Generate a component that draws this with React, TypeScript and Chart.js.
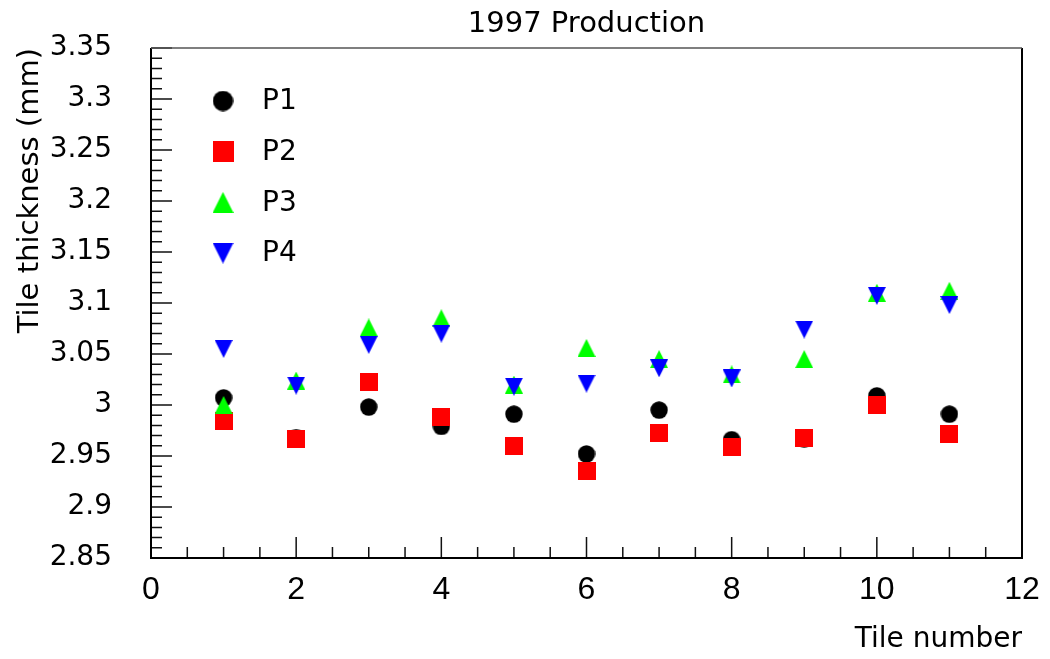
import React, { useEffect, useRef } from 'react';
import { Chart, registerables } from 'chart.js';

Chart.register(...registerables);

// Measured tile thickness (mm) for each production batch, per tile number
const tileNumbers = [1, 2, 3, 4, 5, 6, 7, 8, 9, 10, 11];
const p1Thickness = [3.007, 2.968, 2.998, 2.979, 2.991, 2.952, 2.995, 2.966, 2.967, 3.009, 2.991];
const p2Thickness = [2.984, 2.967, 3.023, 2.988, 2.960, 2.935, 2.973, 2.959, 2.968, 3.000, 2.972];
const p3Thickness = [3.000, 3.024, 3.076, 3.085, 3.020, 3.056, 3.045, 3.030, 3.045, 3.110, 3.112];
const p4Thickness = [3.055, 3.019, 3.059, 3.070, 3.018, 3.021, 3.036, 3.026, 3.074, 3.107, 3.098];

const seriesNames = ['P1', 'P2', 'P3', 'P4'];
const seriesColors = ['#000000', '#ff0000', '#00ff00', '#0000ff'];
type Shape = 'circle' | 'square' | 'up' | 'down';
const seriesShapes: Shape[] = ['circle', 'square', 'up', 'down'];

const chartTitle = '1997 Production';
const xAxisTitle = 'Tile number';
const yAxisTitle = 'Tile thickness (mm)';

const xRange = [0, 12];
const yRange = [2.85, 3.35];

const TEXT_FONT = "'DejaVu Sans', sans-serif";
const NUM_FONT = "'Liberation Sans', Arial, sans-serif";

function makeMarker(shape: Shape, color: string, size: number): HTMLCanvasElement {
  const c = document.createElement('canvas');
  c.width = size;
  c.height = size;
  const g = c.getContext('2d')!;
  const h = size / 2;
  g.fillStyle = color;
  g.beginPath();
  if (shape === 'circle') {
    g.arc(h, h, h - 0.3, 0, Math.PI * 2);
  } else if (shape === 'square') {
    g.rect(0, 0, size, size);
  } else if (shape === 'up') {
    g.moveTo(h, 0);
    g.lineTo(size, size);
    g.lineTo(0, size);
    g.closePath();
  } else {
    g.moveTo(0, 0);
    g.lineTo(size, 0);
    g.lineTo(h, size);
    g.closePath();
  }
  g.fill();
  return c;
}

// Inward tick marks on both axes plus the surrounding frame
const framePlugin = {
  id: 'frameAndTicks',
  afterDraw(chart: any) {
    const { ctx, chartArea, scales } = chart;
    const { left, right, top, bottom } = chartArea;
    const xs = scales.x;
    const ys = scales.y;
    ctx.save();
    ctx.strokeStyle = '#111';
    ctx.lineWidth = 1.5;
    ctx.beginPath();
    for (let i = 0; i <= 50; i++) {
      const v = yRange[0] + i * 0.01;
      const py = ys.getPixelForValue(v);
      const len = i % 5 === 0 ? 21 : 11;
      ctx.moveTo(left, py);
      ctx.lineTo(left + len, py);
    }
    for (let i = 0; i <= 24; i++) {
      const v = xRange[0] + i * 0.5;
      const px = xs.getPixelForValue(v);
      const len = i % 4 === 0 ? 21 : 11;
      ctx.moveTo(px, bottom);
      ctx.lineTo(px, bottom - len);
    }
    ctx.stroke();
    ctx.lineWidth = 2;
    ctx.strokeStyle = '#000';
    ctx.beginPath();
    ctx.moveTo(left, top);
    ctx.lineTo(left, bottom);
    ctx.lineTo(right, bottom);
    ctx.lineTo(right, top);
    ctx.stroke();
    ctx.strokeStyle = '#555';
    ctx.lineWidth = 1.5;
    ctx.beginPath();
    ctx.moveTo(left, top);
    ctx.lineTo(right, top);
    ctx.stroke();
    ctx.restore();
  },
};

// Marker key placed inside the upper-left corner of the plot
function makeKeyPlugin(markers: HTMLCanvasElement[]) {
  return {
    id: 'markerKey',
    afterDatasetsDraw(chart: any) {
      const { ctx } = chart;
      ctx.save();
      ctx.font = `28px ${TEXT_FONT}`;
      ctx.fillStyle = '#000';
      ctx.textAlign = 'left';
      ctx.textBaseline = 'middle';
      seriesNames.forEach((name, i) => {
        const cy = 101 + i * 50.7;
        const m = markers[i];
        ctx.drawImage(m, 223 - m.width / 2, cy - m.height / 2);
        ctx.fillText(name, 262, cy + 1);
      });
      ctx.restore();
    },
  };
}

export default function App() {
  const canvasRef = useRef<HTMLCanvasElement | null>(null);

  useEffect(() => {
    const canvas = canvasRef.current;
    if (!canvas) return;
    const seriesValues = [p1Thickness, p2Thickness, p3Thickness, p4Thickness];
    const pointMarkers = seriesShapes.map((s, i) => makeMarker(s, seriesColors[i], 18));
    const keyMarkers = seriesShapes.map((s, i) => makeMarker(s, seriesColors[i], 21));

    const chart = new Chart(canvas, {
      type: 'scatter',
      data: {
        datasets: seriesValues.map((vals, i) => ({
          label: seriesNames[i],
          data: tileNumbers.map((t, j) => ({ x: t, y: vals[j] })),
          pointStyle: pointMarkers[i],
          backgroundColor: seriesColors[i],
          borderColor: seriesColors[i],
          order: seriesNames.length - i,
        })),
      },
      options: {
        animation: false,
        responsive: false,
        events: [],
        layout: { padding: { top: 0, right: 28, bottom: 0, left: 0 } },
        plugins: {
          legend: { display: false },
          tooltip: { enabled: false },
          title: {
            display: true,
            text: chartTitle,
            fullSize: false,
            color: '#000',
            font: { family: TEXT_FONT, size: 29, weight: 'normal' },
            padding: { top: 6.6, bottom: 6.6 },
          },
        },
        scales: {
          x: {
            type: 'linear',
            min: xRange[0],
            max: xRange[1],
            grid: { display: false },
            border: { display: false },
            ticks: {
              stepSize: 2,
              color: '#000',
              padding: 4.5,
              font: { family: NUM_FONT, size: 32 },
            },
            title: {
              display: true,
              text: xAxisTitle,
              align: 'end',
              color: '#000',
              font: { family: TEXT_FONT, size: 28 },
              padding: { top: 0, bottom: 2.2 },
            },
            afterFit(scale: any) {
              scale.height = 101;
            },
          },
          y: {
            type: 'linear',
            min: yRange[0],
            max: yRange[1],
            grid: { display: false },
            border: { display: false },
            ticks: {
              stepSize: 0.05,
              autoSkip: false,
              color: '#000',
              padding: 31,
              font: { family: TEXT_FONT, size: 28 },
              callback: (v: any) => String(parseFloat(Number(v).toFixed(2))),
            },
            title: {
              display: true,
              text: yAxisTitle,
              align: 'end',
              color: '#000',
              font: { family: TEXT_FONT, size: 29 },
              padding: { top: 13, bottom: 0 },
            },
            afterFit(scale: any) {
              scale.width = 151;
            },
          },
        },
      },
      plugins: [framePlugin, makeKeyPlugin(keyMarkers)],
    } as any);

    return () => chart.destroy();
  }, []);

  return (
    <div style={{ position: 'absolute', left: 0, top: 0, width: 1050, height: 659, background: '#fff' }}>
      <canvas ref={canvasRef} width={1050} height={659} />
    </div>
  );
}
